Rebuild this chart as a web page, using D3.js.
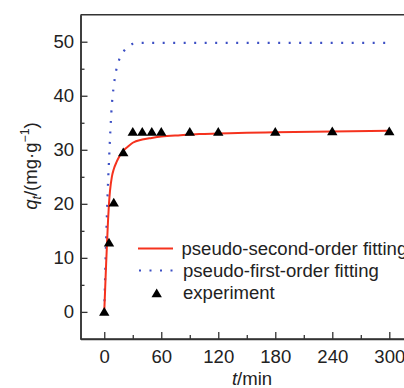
<!DOCTYPE html>
<html><head><meta charset="utf-8">
<script src="https://cdn.jsdelivr.net/npm/d3@7"></script>
<style>
html,body{margin:0;padding:0;background:#fff;}
text{font-family:"Liberation Sans",Arial,sans-serif;fill:#222;}
</style></head>
<body><svg id="c" width="404" height="388"></svg>
<script>
// experimental data
const expT = [0, 5, 10, 20, 30, 40, 50, 60, 90, 120, 180, 240, 300];
const expQ = [0, 12.8, 20.2, 29.5, 33.3, 33.3, 33.3, 33.3, 33.3, 33.3, 33.3, 33.4, 33.4];
// pseudo-second-order fitted curve
const psoT = [0, 1, 2, 3, 4, 5, 6, 8, 10, 13, 16, 20, 25, 30, 40, 50, 60, 80, 100, 120, 150, 180, 240, 300];
const psoQ = [0, 4.5, 9, 13, 17, 20.1, 22.3, 25.0, 26.4, 27.75, 28.8, 29.8, 30.6, 31.3, 31.9, 32.2, 32.45, 32.7, 32.9, 33.0, 33.15, 33.25, 33.4, 33.5];
// pseudo-first-order fitted curve
const pfoT = [0, 1, 2, 3, 4, 5, 6, 8, 10, 12, 15, 20, 25, 30, 40, 60, 90, 120, 180, 240, 300];
const pfoQ = [0, 7, 13.5, 19, 24, 28, 32, 38.3, 41.8, 44.2, 46.3, 48.1, 49.1, 49.6, 49.8, 49.8, 49.8, 49.8, 49.8, 49.8, 49.8];
const xTicks = [0, 60, 120, 180, 240, 300];
const yTicks = [0, 10, 20, 30, 40, 50];
const xMinor = [30, 90, 150, 210, 270];
const yMinor = [5, 15, 25, 35, 45];
const legendLabels = ["pseudo-second-order fitting", "pseudo-first-order fitting", "experiment"];

const svg = d3.select("#c");
const x = d3.scaleLinear().domain([-25, 320]).range([80.5, 408.3]);
const y = d3.scaleLinear().domain([-5, 55]).range([338.9, 14.7]);
const frame = "#333";
const red = "#f5321e", blue = "#3c4fc4";
const stretch = 1.03;
const fs = 18;

// frame
svg.append("line").attr("x1", 80.5).attr("x2", 404).attr("y1", y(55)).attr("y2", y(55)).attr("stroke", frame).attr("stroke-width", 1.5);

// axes with inward ticks
const xAxis = svg.append("g").attr("transform", `translate(0,${y(-5)})`)
  .call(d3.axisBottom(x).tickValues(xTicks).tickSizeInner(-7).tickSizeOuter(0).tickPadding(11));
const xMin = svg.append("g").attr("transform", `translate(0,${y(-5)})`)
  .call(d3.axisBottom(x).tickValues(xMinor).tickSizeInner(-4).tickSizeOuter(0).tickFormat(""));
const yAxis = svg.append("g").attr("transform", `translate(${x(-25)},0)`)
  .call(d3.axisLeft(y).tickValues(yTicks).tickSizeInner(-7).tickSizeOuter(0).tickPadding(6.5));
const yMin = svg.append("g").attr("transform", `translate(${x(-25)},0)`)
  .call(d3.axisLeft(y).tickValues(yMinor).tickSizeInner(-4).tickSizeOuter(0).tickFormat(""));
[xAxis, xMin, yAxis, yMin].forEach(g => {
  g.select(".domain").attr("stroke", frame).attr("stroke-width", 1.5);
  g.selectAll(".tick line").attr("stroke", frame).attr("stroke-width", 1.3);
  g.selectAll("text").attr("font-size", fs).attr("fill", "#222").attr("font-family", "Liberation Sans, Arial, sans-serif");
});
xAxis.selectAll("text").attr("dy", "0.71em");
// extend x domain line to canvas edge
xAxis.select(".domain").attr("d", `M${x(-25)},0H404`);

// clip
svg.append("clipPath").attr("id", "clip").append("rect").attr("x", 81).attr("y", 15).attr("width", 330).attr("height", 323);
const plot = svg.append("g").attr("clip-path", "url(#clip)");

const line = d3.line().x(d => x(d[0])).y(d => y(d[1])).curve(d3.curveMonotoneX);

plot.append("path").datum(pfoT.map((t, i) => [t, pfoQ[i]]))
  .attr("d", line).attr("fill", "none").attr("stroke", blue).attr("stroke-width", 2.2)
  .attr("stroke-dasharray", "2,8.5");
plot.append("path").datum(psoT.map((t, i) => [t, psoQ[i]]))
  .attr("d", line).attr("fill", "none").attr("stroke", red).attr("stroke-width", 2);

const tri = (cx, cy) => `M${cx},${cy - 5}L${cx + 5.2},${cy + 3.8}L${cx - 5.2},${cy + 3.8}Z`;
plot.selectAll(".pt").data(expT.map((t, i) => [t, expQ[i]])).enter().append("path")
  .attr("d", d => tri(x(d[0]), y(d[1]))).attr("fill", "#000");

// legend
const lg = svg.append("g");
lg.append("line").attr("x1", 138).attr("x2", 173).attr("y1", 248.5).attr("y2", 248.5).attr("stroke", red).attr("stroke-width", 2);
lg.append("line").attr("x1", 139).attr("x2", 173).attr("y1", 270.5).attr("y2", 270.5).attr("stroke", blue).attr("stroke-width", 2.2).attr("stroke-dasharray", "2,8.5");
lg.append("path").attr("d", tri(156.7, 293.5)).attr("fill", "#000");
const ly = [254.5, 276.5, 299];
const lx = [181.5, 183, 183];
legendLabels.forEach((s, i) => {
  lg.append("text").attr("class", "st").attr("x", lx[i]).attr("y", ly[i]).attr("font-size", fs).text(s);
});

// axis titles
const xt = svg.append("text").attr("class", "st").attr("x", 252).attr("y", 385).attr("text-anchor", "middle").attr("font-size", fs);
xt.append("tspan").attr("font-style", "italic").text("t");
xt.append("tspan").text("/min");

const yt = svg.append("text").attr("class", "st").attr("transform", "translate(37,166) rotate(-90)").attr("text-anchor", "middle").attr("font-size", fs);
yt.append("tspan").attr("font-style", "italic").text("q");
yt.append("tspan").attr("font-style", "italic").attr("font-size", 12).attr("dy", 4).text("t");
yt.append("tspan").attr("dy", -4).text("/(mg·g");
yt.append("tspan").attr("font-size", 12).attr("dy", -8).text("−1");
yt.append("tspan").attr("dy", 8).text(")");

// slight horizontal stretch of texts to match reference aspect
svg.selectAll(".tick text, text.st").each(function () {
  const w = this.getComputedTextLength();
  if (w > 0) {
    d3.select(this).attr("textLength", w * stretch).attr("lengthAdjust", "spacingAndGlyphs");
  }
});
</script></body></html>
